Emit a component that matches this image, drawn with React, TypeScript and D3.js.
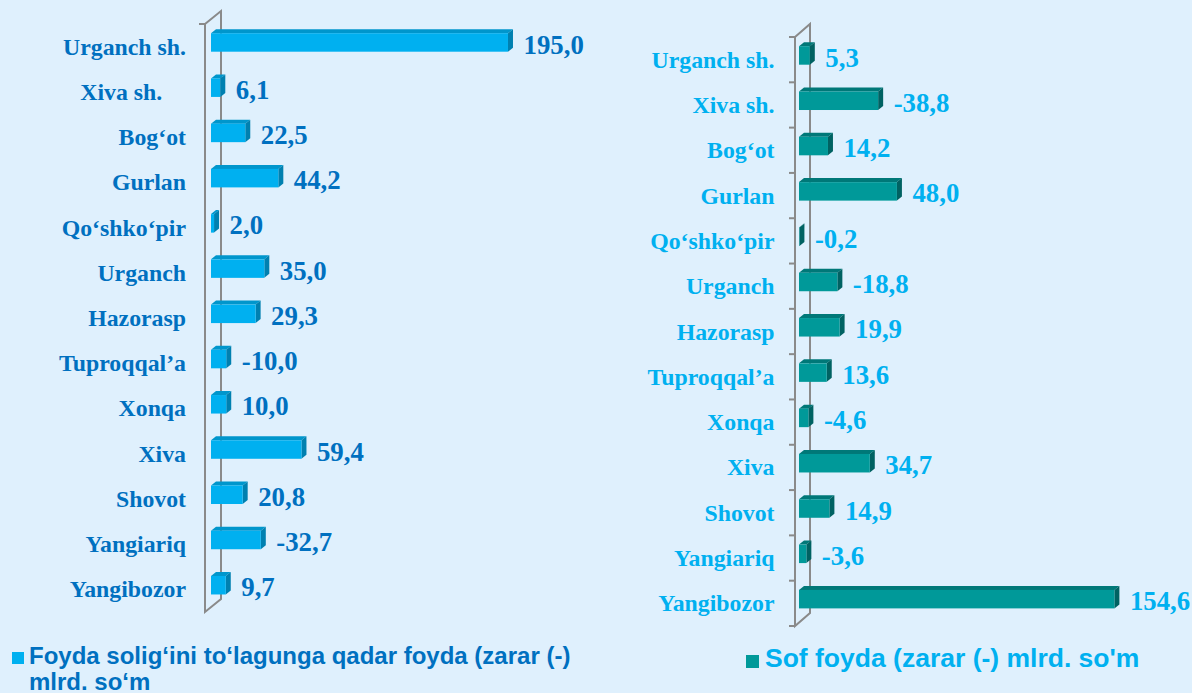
import * as d3 from 'd3';

const categories = ["Urganch sh.", "Xiva sh.", "Bog‘ot", "Gurlan", "Qo‘shko‘pir", "Urganch", "Hazorasp", "Tuproqqal’a", "Xonqa", "Xiva", "Shovot", "Yangiariq", "Yangibozor"];
// left panel shows "Xiva sh." with trailing spaces
const leftLabels = ["Urganch sh.", "Xiva sh.\u00a0\u00a0\u00a0\u00a0", "Bog‘ot", "Gurlan", "Qo‘shko‘pir", "Urganch", "Hazorasp", "Tuproqqal’a", "Xonqa", "Xiva", "Shovot", "Yangiariq", "Yangibozor"];
const profitBeforeTax = [195.0, 6.1, 22.5, 44.2, 2.0, 35.0, 29.3, -10.0, 10.0, 59.4, 20.8, -32.7, 9.7];
const netProfit = [5.3, -38.8, 14.2, 48.0, -0.2, -18.8, 19.9, 13.6, -4.6, 34.7, 14.9, -3.6, 154.6];
const legendLeft = ["Foyda solig‘ini to‘lagunga qadar foyda (zarar (-)", "mlrd. so‘m"];
const legendRight = "Sof foyda (zarar (-) mlrd. so'm";

const BG = "#dff0fd";
const SERIF = "'Liberation Serif', 'Times New Roman', serif";
const SANS = "'Liberation Sans', Arial, sans-serif";

const fmt = (v: number) => (v < 0 ? "-" : "") + Math.abs(v).toFixed(1).replace(".", ",");

interface PanelCfg {
  top: number;
  bottom: number;
  wallX: number;
  wdx: number;
  wdy: number;
  barX0: number;
  k: number;
  labelRight: number;
  front: string;
  side: string;
  topFace: string;
  labelColor: string;
  allTicks: boolean;
}

function Panel({ labels, values, cfg }: { labels: string[]; values: number[]; cfg: PanelCfg }) {
  const y = d3.scaleBand<string>().domain(categories).range([cfg.top, cfg.bottom]);
  const maxV = 200;
  const x = d3.scaleLinear().domain([0, maxV]).range([cfg.barX0, cfg.barX0 + maxV * cfg.k]);
  const bw = y.bandwidth();
  const dx = 5, dy = 4, fh = 18.5;
  const { wallX: wx, wdx, wdy, top, bottom } = cfg;

  const tickYs = cfg.allTicks
    ? categories.map(c => y(c)!).concat([bottom])
    : [top];

  return (
    <g>
      <path
        d={`M${wx},${top}L${wx + wdx},${top - wdy}L${wx + wdx},${bottom - wdy}L${wx},${bottom}Z`}
        fill="none" stroke="#8a8a8a" strokeWidth={2}
      />
      {tickYs.map((ty, i) => (
        <line key={i} x1={wx - 6} x2={wx} y1={ty} y2={ty} stroke="#8a8a8a" strokeWidth={2} />
      ))}
      {categories.map((c, i) => {
        const bt = y(c)!;
        const x0 = x(0), x1 = x(Math.abs(values[i]));
        const fy = bt + 9.2;
        return (
          <g key={c}>
            <polygon points={`${x0},${fy} ${x0 + dx},${fy - dy} ${x1 + dx},${fy - dy} ${x1},${fy}`} fill={cfg.topFace} />
            <polygon points={`${x1},${fy} ${x1 + dx},${fy - dy} ${x1 + dx},${fy + fh - dy} ${x1},${fy + fh}`} fill={cfg.side} />
            <rect x={x0} y={fy} width={x1 - x0} height={fh} fill={cfg.front} />
            <text x={x1 + 15.5} y={bt + 29.5} fontFamily={SERIF} fontWeight="bold" fontSize={26.8} fill={cfg.labelColor}>
              {fmt(values[i])}
            </text>
            <text x={cfg.labelRight} y={bt + bw / 2 + 8} textAnchor="end" fontFamily={SERIF} fontWeight="bold"
              fontSize={23.8} fill={cfg.labelColor} style={{ whiteSpace: 'pre' }}>
              {labels[i]}
            </text>
          </g>
        );
      })}
    </g>
  );
}

export default function App() {
  const W = 1192, H = 693;
  const leftCfg: PanelCfg = {
    top: 24, bottom: 612, wallX: 205, wdx: 16, wdy: 13, barX0: 211, k: 1.523, labelRight: 186,
    front: "#00b0f0", side: "#0080b0", topFace: "#0096cc", labelColor: "#0070c0", allTicks: false,
  };
  const rightCfg: PanelCfg = {
    top: 37, bottom: 626, wallX: 795, wdx: 15, wdy: 13, barX0: 799, k: 2.04, labelRight: 774.5,
    front: "#009999", side: "#006262", topFace: "#007878", labelColor: "#00b0f0", allTicks: true,
  };
  return (
    <svg width={W} height={H} style={{ position: 'absolute', left: 0, top: 0 }}>
      <rect width={W} height={H} fill={BG} />
      <Panel labels={leftLabels} values={profitBeforeTax} cfg={leftCfg} />
      <Panel labels={categories} values={netProfit} cfg={rightCfg} />
      <rect x={12} y={652} width={12} height={12} fill="#00b0f0" />
      <text fontFamily={SANS} fontWeight="bold" fontSize={24} fill="#0070c0">
        <tspan x={29} y={664}>{legendLeft[0]}</tspan>
        <tspan x={29} y={690}>{legendLeft[1]}</tspan>
      </text>
      <rect x={746} y={655} width={13} height={13} fill="#009999" />
      <text x={765} y={667} fontFamily={SANS} fontWeight="bold" fontSize={26.5} fill="#00b0f0">
        {legendRight}
      </text>
    </svg>
  );
}
